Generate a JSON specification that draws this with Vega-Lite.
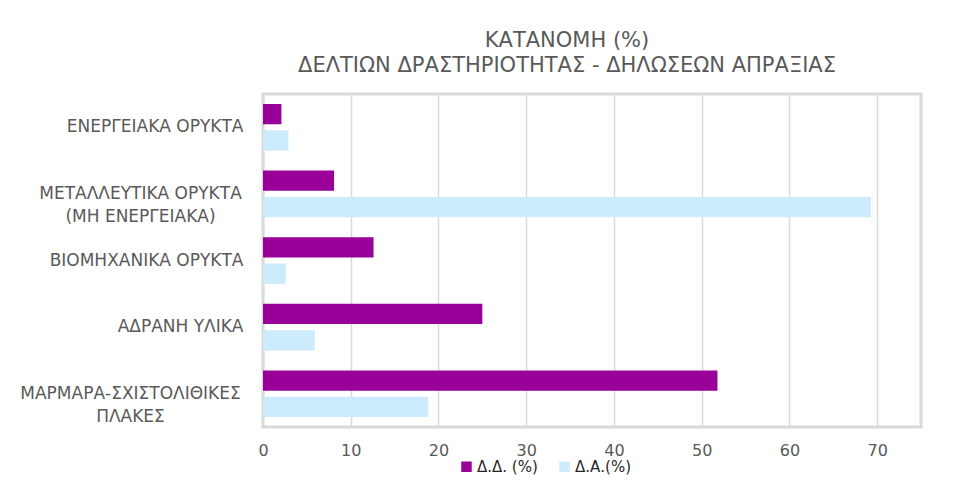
{
  "$schema": "https://vega.github.io/schema/vega-lite/v6.json",
  "width": 658,
  "height": 333,
  "autosize": {"type": "none"},
  "padding": {"left": 263, "top": 94, "right": 35, "bottom": 56},
  "background": "white",
  "title": {
    "text": ["ΚΑΤΑΝΟΜΗ (%)", "ΔΕΛΤΙΩΝ ΔΡΑΣΤΗΡΙΟΤΗΤΑΣ - ΔΗΛΩΣΕΩΝ ΑΠΡΑΞΙΑΣ"],
    "anchor": "middle",
    "dx": -25,
    "offset": 18,
    "font": "DejaVu Sans",
    "fontSize": 21,
    "fontWeight": "normal",
    "color": "#595959",
    "lineHeight": 25
  },
  "data": {
    "values": [
      {"category": "ΕΝΕΡΓΕΙΑΚΑ ΟΡΥΚΤΑ", "series": "Δ.Δ. (%)", "value": 2.1},
      {"category": "ΕΝΕΡΓΕΙΑΚΑ ΟΡΥΚΤΑ", "series": "Δ.Α.(%)", "value": 2.9},
      {"category": "ΜΕΤΑΛΛΕΥΤΙΚΑ ΟΡΥΚΤΑ (ΜΗ ΕΝΕΡΓΕΙΑΚΑ)", "series": "Δ.Δ. (%)", "value": 8.1},
      {"category": "ΜΕΤΑΛΛΕΥΤΙΚΑ ΟΡΥΚΤΑ (ΜΗ ΕΝΕΡΓΕΙΑΚΑ)", "series": "Δ.Α.(%)", "value": 69.3},
      {"category": "ΒΙΟΜΗΧΑΝΙΚΑ ΟΡΥΚΤΑ", "series": "Δ.Δ. (%)", "value": 12.6},
      {"category": "ΒΙΟΜΗΧΑΝΙΚΑ ΟΡΥΚΤΑ", "series": "Δ.Α.(%)", "value": 2.6},
      {"category": "ΑΔΡΑΝΗ ΥΛΙΚΑ", "series": "Δ.Δ. (%)", "value": 25.0},
      {"category": "ΑΔΡΑΝΗ ΥΛΙΚΑ", "series": "Δ.Α.(%)", "value": 5.9},
      {"category": "ΜΑΡΜΑΡΑ-ΣΧΙΣΤΟΛΙΘΙΚΕΣ ΠΛΑΚΕΣ", "series": "Δ.Δ. (%)", "value": 51.8},
      {"category": "ΜΑΡΜΑΡΑ-ΣΧΙΣΤΟΛΙΘΙΚΕΣ ΠΛΑΚΕΣ", "series": "Δ.Α.(%)", "value": 18.85}
    ]
  },
  "mark": {"type": "bar"},
  "encoding": {
    "y": {
      "field": "category",
      "type": "nominal",
      "sort": null,
      "title": null,
      "scale": {"paddingInner": 0.3, "paddingOuter": 0.15},
      "axis": {
        "domain": false,
        "ticks": false,
        "grid": false,
        "labelPadding": {
          "condition": [
            {"test": "datum.value == 'ΜΕΤΑΛΛΕΥΤΙΚΑ ΟΡΥΚΤΑ (ΜΗ ΕΝΕΡΓΕΙΑΚΑ)'", "value": 123},
            {"test": "datum.value == 'ΜΑΡΜΑΡΑ-ΣΧΙΣΤΟΛΙΘΙΚΕΣ ΠΛΑΚΕΣ'", "value": 133}
          ],
          "value": 20
        },
        "labelAlign": {
          "condition": {"test": "datum.value == 'ΜΕΤΑΛΛΕΥΤΙΚΑ ΟΡΥΚΤΑ (ΜΗ ΕΝΕΡΓΕΙΑΚΑ)' || datum.value == 'ΜΑΡΜΑΡΑ-ΣΧΙΣΤΟΛΙΘΙΚΕΣ ΠΛΑΚΕΣ'", "value": "center"},
          "value": "right"
        },
        "labelFont": "DejaVu Sans",
        "labelFontSize": 17,
        "labelColor": "#595959",
        "labelLineHeight": 23,
        "labelLimit": 260,
        "labelExpr": "datum.value == 'ΜΕΤΑΛΛΕΥΤΙΚΑ ΟΡΥΚΤΑ (ΜΗ ΕΝΕΡΓΕΙΑΚΑ)' ? ['ΜΕΤΑΛΛΕΥΤΙΚΑ ΟΡΥΚΤΑ', '(ΜΗ ΕΝΕΡΓΕΙΑΚΑ)'] : datum.value == 'ΜΑΡΜΑΡΑ-ΣΧΙΣΤΟΛΙΘΙΚΕΣ ΠΛΑΚΕΣ' ? ['ΜΑΡΜΑΡΑ-ΣΧΙΣΤΟΛΙΘΙΚΕΣ', 'ΠΛΑΚΕΣ'] : datum.value"
      }
    },
    "yOffset": {
      "field": "series",
      "type": "nominal",
      "sort": ["Δ.Δ. (%)", "Δ.Α.(%)"],
      "scale": {"paddingInner": 0.23}
    },
    "x": {
      "field": "value",
      "type": "quantitative",
      "title": null,
      "scale": {"domain": [0, 75], "nice": false, "zero": true},
      "axis": {
        "values": [0, 10, 20, 30, 40, 50, 60, 70],
        "domain": false,
        "ticks": false,
        "grid": true,
        "gridColor": "#d9d9d9",
        "gridWidth": 1.5,
        "labelPadding": 15,
        "labelFont": "DejaVu Sans",
        "labelFontSize": 16,
        "labelColor": "#595959",
        "labelFlush": false
      }
    },
    "color": {
      "field": "series",
      "type": "nominal",
      "sort": ["Δ.Δ. (%)", "Δ.Α.(%)"],
      "scale": {"domain": ["Δ.Δ. (%)", "Δ.Α.(%)"], "range": ["#990099", "#CCEBFC"]},
      "legend": {
        "title": null,
        "orient": "none",
        "direction": "horizontal",
        "legendX": 196,
        "legendY": 365,
        "symbolType": "square",
        "symbolSize": 110,
        "symbolStrokeWidth": 0,
        "labelFont": "DejaVu Sans",
        "labelFontSize": 15,
        "labelColor": "#262626",
        "labelOffset": 3,
        "columnPadding": 19
      }
    }
  },
  "config": {
    "view": {"stroke": "#d9d9d9", "strokeWidth": 3}
  }
}
